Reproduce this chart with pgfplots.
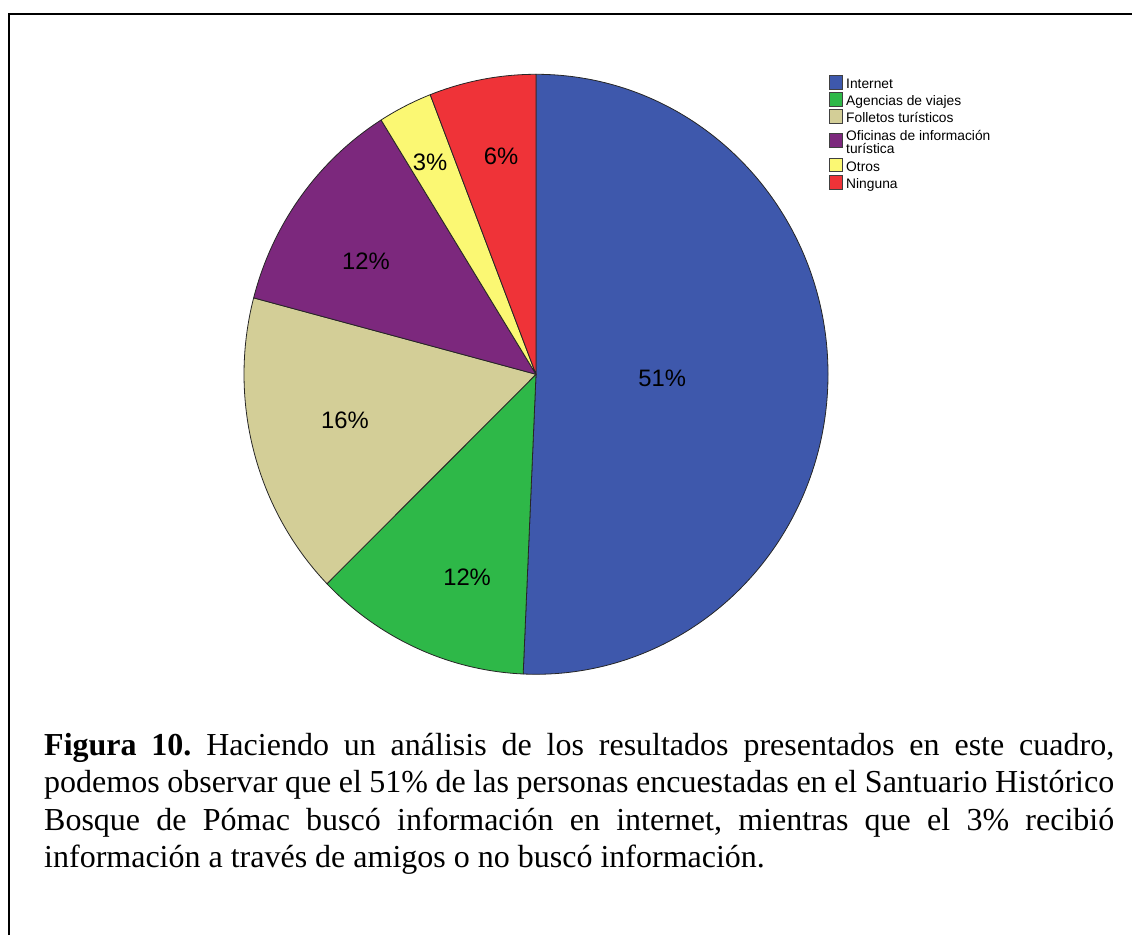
\documentclass[border=0pt]{standalone}
\usepackage{fontspec}
\setmainfont{Liberation Serif}
\newfontfamily\arial{Liberation Sans}
\usepackage{pgfplots}
\pgfplotsset{compat=1.18}

\definecolor{cInt}{HTML}{3E58AC}
\definecolor{cAge}{HTML}{2EB848}
\definecolor{cFol}{HTML}{D3CE97}
\definecolor{cOfi}{HTML}{7C287D}
\definecolor{cOtr}{HTML}{FBF873}
\definecolor{cNin}{HTML}{EF3338}

% slice values in percent (clockwise from 12 o'clock)
\def\vA{50.7}% Internet
\def\vB{12.0}% Agencias de viajes
\def\vC{16.4}% Folletos turisticos
\def\vD{12.0}% Oficinas de informacion turistica
\def\vE{3.0}%  Otros
\def\vF{5.9}%  Ninguna

\frenchspacing
\begin{document}
\begin{tikzpicture}[x=1pt,y=1pt]
\pgfmathsetmacro\aA{90}
\pgfmathsetmacro\aB{\aA-3.6*\vA}
\pgfmathsetmacro\aC{\aB-3.6*\vB}
\pgfmathsetmacro\aD{\aC-3.6*\vC}
\pgfmathsetmacro\aE{\aD-3.6*\vD}
\pgfmathsetmacro\aF{\aE-3.6*\vE}
\pgfmathsetmacro\aG{\aF-3.6*\vF}
\useasboundingbox (0pt,0pt) rectangle (1132pt,935pt);
\draw[line width=2.5pt] (9pt,0pt) -- (9pt,921pt) -- (1132pt,921pt);

\begin{axis}[
  at={(536pt,560.7pt)}, anchor=origin,
  x=292pt, y=300pt,
  xmin=-1, xmax=1, ymin=-1, ymax=1,
  hide axis, clip=false,
]
\tikzset{slice/.style={draw=black!85, line width=0.8pt, line join=round}}
\filldraw[slice, fill=cInt] (axis cs:0,0) -- (axis cs:{cos(\aA)},{sin(\aA)})
  arc[start angle=\aA, end angle=\aB, x radius=292pt, y radius=300pt] -- cycle;
\filldraw[slice, fill=cAge] (axis cs:0,0) -- (axis cs:{cos(\aB)},{sin(\aB)})
  arc[start angle=\aB, end angle=\aC, x radius=292pt, y radius=300pt] -- cycle;
\filldraw[slice, fill=cFol] (axis cs:0,0) -- (axis cs:{cos(\aC)},{sin(\aC)})
  arc[start angle=\aC, end angle=\aD, x radius=292pt, y radius=300pt] -- cycle;
\filldraw[slice, fill=cOfi] (axis cs:0,0) -- (axis cs:{cos(\aD)},{sin(\aD)})
  arc[start angle=\aD, end angle=\aE, x radius=292pt, y radius=300pt] -- cycle;
\filldraw[slice, fill=cOtr] (axis cs:0,0) -- (axis cs:{cos(\aE)},{sin(\aE)})
  arc[start angle=\aE, end angle=\aF, x radius=292pt, y radius=300pt] -- cycle;
\filldraw[slice, fill=cNin] (axis cs:0,0) -- (axis cs:{cos(\aF)},{sin(\aF)})
  arc[start angle=\aF, end angle=\aG, x radius=292pt, y radius=300pt] -- cycle;

\tikzset{lbl/.style={font=\arial\fontsize{23.8}{27}\selectfont, text=black, inner sep=0pt}}
\node[lbl] at (axis cs:0.432,-0.013) {51\%};
\node[lbl] at (axis cs:-0.236,-0.677) {12\%};
\node[lbl] at (axis cs:-0.654,-0.153) {16\%};
\node[lbl] at (axis cs:-0.582,0.377) {12\%};
\node[lbl] at (axis cs:-0.363,0.707) {3\%};
\node[lbl] at (axis cs:-0.120,0.727) {6\%};
\end{axis}

% legend (pixel rows measured from the top: baselines 89,106,123,140.5/154,171.5,189)
\tikzset{lgbox/.style={draw=black!75, line width=0.6pt},
         lgtxt/.style={anchor=base west, inner sep=0pt, font=\arial\fontsize{13.8}{13.3}\selectfont}}
\foreach \c/\t/\b/\bb in {cInt/Internet/89/89, cAge/Agencias de viajes/106/106, cFol/Folletos turísticos/123/123, cOtr/Otros/171.5/171.5, cNin/Ninguna/189/189}{
  \filldraw[lgbox, fill=\c] (829.5pt,{935-\bb}) rectangle (842.5pt,{935-\bb+13.5});
  \node[lgtxt] at (846pt,{935-\b}) {\t};
}
\filldraw[lgbox, fill=cOfi] (829.5pt,{935-147.3}) rectangle (842.5pt,{935-133.8});
\node[lgtxt] at (846pt,{935-140.5}) {Oficinas de información};
\node[lgtxt] at (846pt,{935-154}) {turística};

\tikzset{captxt/.style={anchor=base west, inner sep=0pt, font=\fontsize{32}{37.3}\selectfont}}
\node[captxt] at (44pt,179.3pt) {\makebox[1070pt][s]{\textbf{Figura 10.} Haciendo un análisis de los resultados presentados en este cuadro,}};
\node[captxt] at (44pt,142.1pt) {\makebox[1070pt][s]{podemos observar que el 51\% de las personas encuestadas en el Santuario Histórico}};
\node[captxt] at (44pt,104.8pt) {\makebox[1070pt][s]{Bosque de Pómac buscó información en internet, mientras que el 3\% recibió}};
\node[captxt] at (44pt,67.5pt) {información a través de amigos o no buscó información.};
\end{tikzpicture}
\end{document}
